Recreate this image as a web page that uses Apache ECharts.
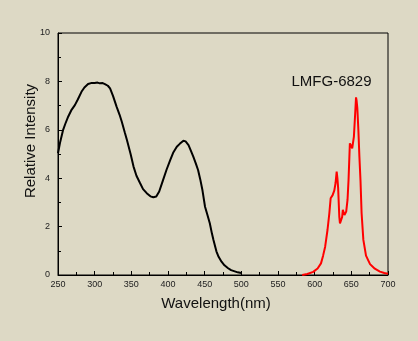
<!DOCTYPE html>
<html>
<head>
<meta charset="utf-8">
<script src="https://cdn.jsdelivr.net/npm/echarts@6/dist/echarts.min.js"></script>
<style>
html,body{margin:0;padding:0;background:#ddd9c5;}
#chart{width:418px;height:341px;}
</style>
</head>
<body>
<div id="chart"></div>
<script>
// Excitation spectrum (black)
const excWavelength = [250,253,257,260,264,268,273,277,282,286,291,295,300,304,307,311,314,318,321,325,330,334,337,341,344,349,353,357,362,366,371,376,380,384,388,393,398,403,407,412,416,421,424,428,431,434.5,438,441,444,447,450.5,453.6,457,460,462,466,469,473,477,482,486,491,495,500];
const excIntensity  = [5.03,5.5,6.0,6.25,6.55,6.8,7.02,7.25,7.57,7.75,7.89,7.93,7.93,7.95,7.92,7.93,7.89,7.82,7.71,7.4,6.95,6.62,6.33,5.9,5.58,5.0,4.48,4.1,3.79,3.55,3.38,3.25,3.21,3.24,3.45,3.9,4.35,4.75,5.05,5.3,5.42,5.55,5.52,5.37,5.15,4.89,4.6,4.34,3.95,3.5,2.82,2.5,2.14,1.7,1.45,0.98,0.75,0.55,0.4,0.28,0.2,0.15,0.11,0.08];
// Emission spectrum (red)
const emWavelength = [583,590,598,604,608.6,611.5,614.3,617.5,620,621.8,624.5,626.8,628.5,630,631,632,633.6,634.5,636,637.5,638.4,640.6,643,644.8,646.2,648,649.5,651.2,653.5,655,656.4,657.2,658.2,659.6,661,662.5,664,666.4,670,675.5,682,689,695,700];
const emIntensity  = [0.0,0.04,0.13,0.27,0.48,0.8,1.17,1.86,2.55,3.17,3.3,3.5,3.8,4.27,4.0,3.6,2.4,2.13,2.07,2.4,2.69,2.48,2.62,3.1,3.93,5.44,5.35,5.23,5.72,6.54,7.34,7.2,6.89,5.99,4.89,3.9,2.55,1.45,0.8,0.45,0.26,0.14,0.08,0.05];
const xTicks = {min:250, max:700, interval:50};
const yTicks = {min:0, max:10, interval:2};
const sampleLabel = 'LMFG-6829';
const xTitle = 'Wavelength(nm)';
const yTitle = 'Relative Intensity';

const zip = (a,b) => a.map((v,i)=>[v,b[i]]);
const font = 'Arial, "Liberation Sans", sans-serif';
const chart = echarts.init(document.getElementById('chart'));
chart.setOption({
  backgroundColor:'#ddd9c5',
  animation:false,
  grid:{left:58,right:30,top:33,bottom:66,show:true,borderColor:'#000',borderWidth:1,backgroundColor:'transparent'},
  xAxis:{type:'value',min:xTicks.min,max:xTicks.max,interval:xTicks.interval,
    axisLine:{show:true,lineStyle:{color:'#000',width:1}},
    axisTick:{show:true,inside:true,length:4,lineStyle:{color:'#000'}},
    minorTick:{show:true,splitNumber:2,length:3,lineStyle:{color:'#000'}},
    splitLine:{show:false},
    axisLabel:{fontSize:9,color:'#222',fontFamily:font,margin:5}},
  yAxis:{type:'value',min:yTicks.min,max:yTicks.max,interval:yTicks.interval,
    axisLine:{show:true,lineStyle:{color:'#000',width:1}},
    axisTick:{show:true,inside:true,length:4,lineStyle:{color:'#000'}},
    minorTick:{show:true,splitNumber:2,length:3,lineStyle:{color:'#000'}},
    splitLine:{show:false},
    axisLabel:{fontSize:9,color:'#222',fontFamily:font,margin:8}},
  graphic:[
    {type:'text',left:null,x:216,y:304,style:{text:xTitle,font:'15px '+font,fill:'#111',align:'center',verticalAlign:'middle'}},
    {type:'text',x:30.5,y:141,rotation:Math.PI/2,style:{text:yTitle,font:'15px '+font,fill:'#111',align:'center',verticalAlign:'middle'}},
    {type:'text',x:291.5,y:81.5,style:{text:sampleLabel,font:'15px '+font,fill:'#111',align:'left',verticalAlign:'middle'}}
  ],
  series:[
    {type:'line',data:zip(excWavelength,excIntensity),showSymbol:false,smooth:false,lineStyle:{color:'#000',width:2},itemStyle:{color:'#000'}},
    {type:'line',data:zip(emWavelength,emIntensity),showSymbol:false,smooth:false,lineStyle:{color:'#ff0000',width:2},itemStyle:{color:'#ff0000'}}
  ]
});
</script>
</body>
</html>
